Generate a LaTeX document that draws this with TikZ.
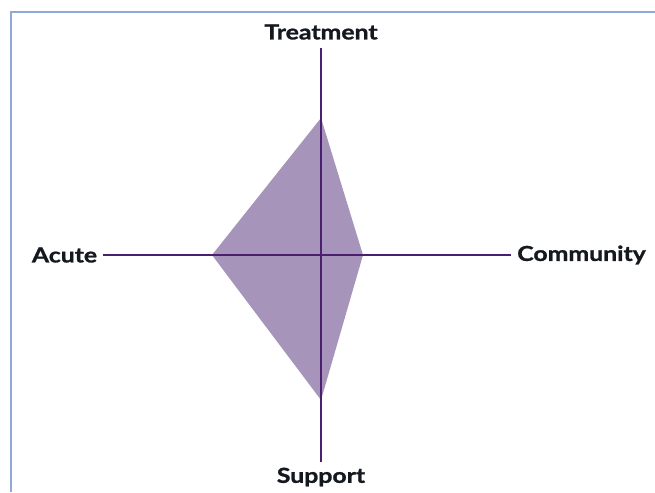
\documentclass[tikz,border=0pt]{standalone}
\usepackage{fontspec}
\setmainfont{Lato}[BoldFeatures={FakeStretch=1.2,FakeBold=1.2}]
\definecolor{frameblue}{HTML}{91A9D6}
\definecolor{axispurple}{HTML}{4B1F6F}
\definecolor{fillpurple}{HTML}{A794BA}
\definecolor{labelink}{HTML}{15191F}
\tikzset{
  axisline/.style={draw=axispurple, line width=1.9pt},
  areafill/.style={fill=fillpurple, draw=none},
  axislabel/.style={text=labelink, font=\fontsize{15.5}{18}\selectfont\bfseries, inner sep=0pt},
  framebar/.style={draw=frameblue, line width=2pt}
}
\begin{document}
\begin{tikzpicture}[x=0.75pt, y=-0.75pt]
\useasboundingbox (0,0) rectangle (655,492);
\fill[white] (0,0) rectangle (655,492);
% frame
\coordinate (ftr) at (655,12);
\coordinate (ftl) at (11,12);
\coordinate (fbl) at (11,492);
\draw[framebar] (ftr) -- (ftl) -- (fbl);
% polygon
\coordinate (pt) at (321,118);
\coordinate (pr) at (363,255);
\coordinate (pb) at (321,400);
\coordinate (pl) at (212,255);
\fill[areafill] (pt) -- (pr) -- (pb) -- (pl) -- cycle;
% axes ends
\coordinate (at) at (321,48);
\coordinate (ab) at (321,462);
\coordinate (al) at (103,255);
\coordinate (ar) at (511,255);
\draw[axisline] (at) -- (ab);
\draw[axisline] (al) -- (ar);
% labels
\node[axislabel] (treat) at (321,32) {Treatment};
\node[axislabel] (acute) at (64.5,255) {Acute};
\node[axislabel] (comm) at (581.5,255) {Community};
\node[axislabel] (supp) at (321,477) {Support};
\end{tikzpicture}
\end{document}
